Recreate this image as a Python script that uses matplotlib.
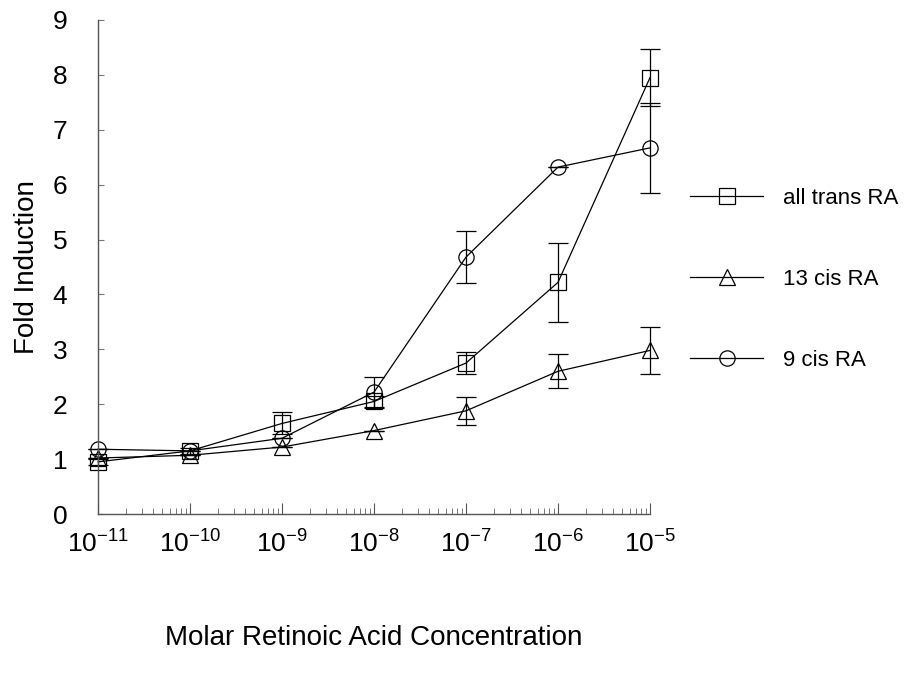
"""
Fold induction vs. retinoic acid concentration
"""

import matplotlib
matplotlib.use("Agg")
import matplotlib.pyplot as plt
from matplotlib.ticker import FuncFormatter, LogLocator
import numpy as np

plt.rcParams["font.family"] = ["Liberation Sans", "DejaVu Sans"]
plt.rcParams["mathtext.default"] = "regular"

# Концентрации (M)
conc = [1e-11, 1e-10, 1e-9, 1e-8, 1e-7, 1e-6, 1e-5]

# all trans RA
trans_vals = [0.95, 1.15, 1.65, 2.05, 2.75, 4.22, 7.95]
trans_err = [0.05, 0.05, 0.20, 0.10, 0.20, 0.72, 0.52]

# 13 cis RA
cis13_vals = [1.02, 1.07, 1.22, 1.52, 1.88, 2.60, 2.98]
cis13_err = [0.0, 0.0, 0.0, 0.0, 0.25, 0.31, 0.43]

# 9 cis RA
cis9_vals = [1.18, 1.15, 1.38, 2.22, 4.68, 6.32, 6.67]
cis9_err = [0.0, 0.0, 0.0, 0.28, 0.48, 0.0, 0.82]

labels = ["all trans RA", "13 cis RA", "9 cis RA"]


def pow_label(v, pos):
    return r"$10^{%d}$" % round(np.log10(v))


fig = plt.figure(figsize=(9.16, 6.75), dpi=100)
ax = fig.add_axes([0.107, 0.2385, 0.6026, 0.7319])

series = [
    (trans_vals, trans_err, "s", labels[0]),
    (cis13_vals, cis13_err, "^", labels[1]),
    (cis9_vals, cis9_err, "o", labels[2]),
]
for vals, err, mk, lab in series:
    ax.errorbar(
        conc, vals, yerr=err, fmt="-", marker=mk, color="black",
        markerfacecolor="none", markeredgecolor="black", markersize=11,
        markeredgewidth=0.9, linewidth=0.9, elinewidth=0.9,
        capsize=7, capthick=0.9, label=lab, clip_on=False,
    )

ax.set_xscale("log")
ax.set_xlim(1e-11, 1e-5)
ax.set_ylim(0, 9)
ax.set_yticks(range(0, 10))
ax.xaxis.set_major_locator(LogLocator(base=10, numticks=10))
ax.xaxis.set_minor_locator(LogLocator(base=10, subs=np.arange(2, 10), numticks=10))
ax.xaxis.set_major_formatter(FuncFormatter(pow_label))

for side in ["top", "right"]:
    ax.spines[side].set_visible(False)
for side in ["left", "bottom"]:
    ax.spines[side].set_color("#555555")
    ax.spines[side].set_linewidth(1.0)

ax.tick_params(axis="y", direction="in", length=4, width=0.8, color="#777777",
               labelsize=19, pad=22)
ax.tick_params(axis="x", which="major", direction="in", length=8, width=0.8,
               color="#555555", labelsize=19, pad=12)
ax.tick_params(axis="x", which="minor", direction="in", length=4, width=0.7,
               color="#777777")

ax.set_ylabel("Fold Induction", fontsize=20, labelpad=9)
ax.set_xlabel("Molar Retinoic Acid Concentration", fontsize=20, labelpad=48)

handles, labs = ax.get_legend_handles_labels()
handles = [h[0] for h in handles]
ax.legend(
    handles, labs, loc="center left", bbox_to_anchor=(1.0, 0.475),
    frameon=False, fontsize=16, labelspacing=2.7, handlelength=3.3,
    handletextpad=0.9, borderaxespad=1.4,
)

fig.savefig("out.png", dpi=100)
